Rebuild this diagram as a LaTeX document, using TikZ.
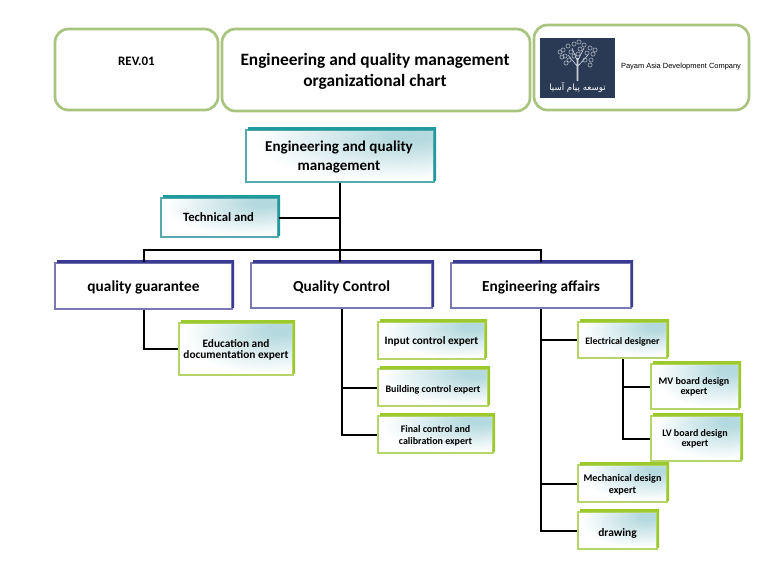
\documentclass[tikz,border=0pt]{standalone}
\usepackage{fontspec}
\setmainfont{Carlito}[BoldFont=Carlito Bold]
\newfontfamily\arial{Liberation Sans}
\newfontfamily\arabicfont[Script=Arabic]{DejaVu Sans}
\TeXXeTstate=1
\definecolor{framegreen}{HTML}{A9C47F}
\definecolor{tealdark}{HTML}{1F9A9E}
\definecolor{tealthin}{HTML}{58A9AE}
\definecolor{navydark}{HTML}{3B3A92}
\definecolor{navythin}{HTML}{7A78B0}
\definecolor{limedark}{HTML}{9CC92B}
\definecolor{limethin}{HTML}{B5D56A}
\definecolor{tint}{HTML}{B4D9DE}
\definecolor{logobg}{HTML}{2A3A55}
\definecolor{logoline}{HTML}{C9CED6}
\pgfdeclareradialshading{cornertint}{\pgfpoint{20bp}{20bp}}{color(0bp)=(tint); color(5bp)=(tint); color(36bp)=(white); color(100bp)=(white)}
\newcommand\T[5]{\raisebox{#2\dimexpr0.75pt\relax}[0pt][0pt]{\hspace*{#1\dimexpr1.5pt\relax}\fontsize{#3}{#4}\selectfont\bfseries\begin{tabular}[c]{@{}c@{}}#5\end{tabular}}}
\newcommand\bx[7]{%
  \node[#1box,minimum width={(#5-#3)*0.75pt},minimum height={(#6-#4)*0.75pt}] (#2) at ({(#3+#5)/2},{(#4+#6)/2}) {#7};
  \fill[#1edge] (#3+2,#4) -- (#3+2,#4-3) -- (#5+2,#4-3) -- (#5+2,#6-1) -- (#5,#6-1) -- (#5,#4) -- cycle;
}
\tikzset{
  shadebox/.style={inner sep=0pt,line width=0.9pt,shade,shading=cornertint},
  tealbox/.style={shadebox,draw=tealthin},
  tealedge/.style={fill=tealdark},
  limebox/.style={shadebox,draw=limethin},
  limeedge/.style={fill=limedark},
  navybox/.style={inner sep=0pt,line width=0.9pt,draw=navythin,fill=white},
  navyedge/.style={fill=navydark},
  framebox/.style={inner sep=0pt,draw=framegreen,fill=white,line width=2pt,rounded corners=10pt},
  conn/.style={draw=black,line width=1.5pt},
  logocirc/.style={draw=logoline,line width=0.35pt},
}
\begin{document}
\begin{tikzpicture}[x=0.75pt,y=-0.75pt]
\useasboundingbox (0,0) rectangle (759,562);
\fill[white] (0,0) rectangle (759,562);
% header
\node[framebox,minimum width={163*0.75pt},minimum height={81*0.75pt}] (rev) at (136.5,69.5) {\T{0}{4}{9.7}{11}{REV.01}};
\node[framebox,minimum width={308*0.75pt},minimum height={82*0.75pt}] (title) at (376,70) {\T{-1}{-6}{13}{15.75}{Engineering and quality management\\organizational chart}};
\node[framebox,minimum width={215*0.75pt},minimum height={85*0.75pt}] (company) at (641.5,67.5) {};
\node[inner sep=0pt,font=\arial\fontsize{5.6}{7}\selectfont] (companyname) at (681,67) {Payam Asia Development Company};
% logo
\node[fill=logobg,inner sep=0pt,minimum width={75*0.75pt},minimum height={60*0.75pt}] (logo) at (577.5,68) {};
\draw[logoline,line width=0.5pt] (577,81) -- (577,58) (578,81) -- (578,58) (577,66) -- (568,55) (578,66) -- (588,55) (577,60) -- (572,48) (578,60) -- (584,48);
\foreach \cx/\cy in {563/50,565/56,568/46,571/52,574/44,579/42,584/45,590/48,593/54,587/53,580/49,574/56,569/60,585/60,591/60,562/57,566/63,590/65,578/54,560/52,595/50}
  \draw[logocirc] (\cx,\cy) circle (2.1);
\node[inner sep=0pt,text=white,font=\arabicfont\fontsize{6.5}{8}\selectfont] (logotext) at (577.5,87) {\beginR توسعه پیام آسیا\endR};
% main
\bx{teal}{main}{246}{130}{434}{182}{\T{-1}{-5}{11.3}{14.5}{Engineering and quality\\management}}
\bx{teal}{tech}{161}{198}{278}{237}{\T{-1}{-4}{9.5}{11}{Technical and}}
\bx{navy}{qg}{55}{263}{232}{309}{\T{0}{-6}{11.5}{14}{quality guarantee}}
\bx{navy}{qc}{251}{263}{432}{308}{\T{0}{-6}{11.5}{14}{Quality Control}}
\bx{navy}{ea}{451}{263}{631}{308}{\T{0}{-6}{11.5}{14}{Engineering affairs}}
\bx{lime}{edu}{179}{323}{293}{375}{\T{0}{-4}{8.5}{7.5}{Education and\\documentation expert}}
\bx{lime}{input}{378}{322}{485}{359}{\T{0}{-4}{8.45}{10}{Input control expert}}
\bx{lime}{build}{378}{369}{488}{406}{\T{0}{-5}{7.5}{10}{Building control expert}}
\bx{lime}{final}{378}{416}{493}{453}{\T{0}{-4}{7.5}{9}{Final control and\\calibration expert}}
\bx{lime}{elec}{578}{322}{667}{358}{\T{0}{-4}{7.4}{9}{Electrical designer}}
\bx{lime}{mv}{651}{364}{739}{409}{\T{-1}{-3}{7.5}{7.5}{MV board design\\expert}}
\bx{lime}{lv}{651}{416}{741}{461}{\T{-1}{-3}{7.5}{7.5}{LV board design\\expert}}
\bx{lime}{mech}{578}{465}{667}{502}{\T{0}{-4}{7.6}{9}{Mechanical design\\expert}}
\bx{lime}{draw}{578}{512}{657}{549}{\T{0}{-6}{8.6}{10}{drawing}}
% connectors
\coordinate (bus) at (341,250);
\draw[conn] (main.south) -- (main.south |- qc.north);
\draw[conn] (tech.east) -- (tech.east -| main.south);
\draw[conn] (qg.north) |- (bus) -| (ea.north);
\draw[conn] (qg.south) |- (edu.west);
\draw[conn] (qc.south) |- (final.west);
\draw[conn] (qc.south |- build.west) -- (build.west);
\draw[conn] (ea.south) |- (draw.west);
\draw[conn] (ea.south |- elec.west) -- (elec.west);
\draw[conn] (ea.south |- mech.west) -- (mech.west);
\draw[conn] (elec.south) |- (lv.west);
\draw[conn] (elec.south |- mv.west) -- (mv.west);
\end{tikzpicture}
\end{document}
